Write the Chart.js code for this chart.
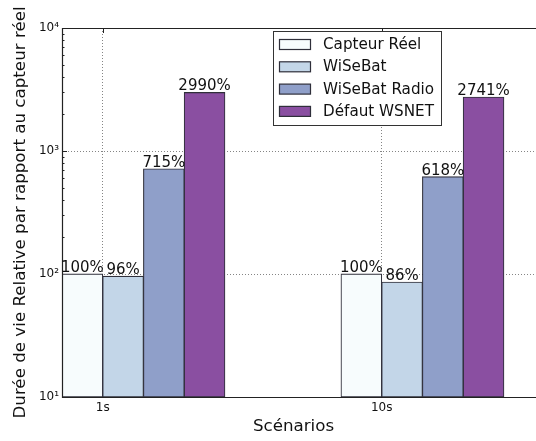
<!DOCTYPE html>
<html>
<head>
<meta charset="utf-8">
<script src="https://cdn.jsdelivr.net/npm/chart.js@4/dist/chart.umd.min.js"></script>
<style>
  html, body { margin: 0; padding: 0; background: #fff; overflow: hidden; }
  #wrap { width: 536px; height: 441px; }
</style>
</head>
<body>
<div id="wrap"><canvas id="chart"></canvas></div>
<script>
"use strict";

var scenarios = ["1s", "10s"];
var seriesNames = ["Capteur Réel", "WiSeBat", "WiSeBat Radio", "Défaut WSNET"];
var capteurReel = [100, 100];
var wisebat = [96, 86];
var wisebatRadio = [715, 618];
var defautWsnet = [2990, 2741];
var yTicks = [10, 100, 1000, 10000];
var yTickLabels = ["10¹", "10²", "10³", "10⁴"];
var yTitle = "Durée de vie Relative par rapport au capteur réel";
var xTitle = "Scénarios";

var colors = ["#f7fcfd", "#c3d6e8", "#8f9fc9", "#8a4fa1"];
var edge = "#2f2f3a";
var FONT = "'DejaVu Sans', sans-serif";

// bar width in x units; ticks sit on the left edge of the 2nd bar (matplotlib style)
var BAR_W = 0.146;
var X_MIN = -BAR_W;
var X_MAX = X_MIN + 1.699;

var allSeries = [capteurReel, wisebat, wisebatRadio, defautWsnet];

function toPoints(values) {
    return values.map(function (v, i) { return { x: i + BAR_W, y: v }; });
}

var datasets = allSeries.map(function (values, k) {
    return {
        label: seriesNames[k],
        data: toPoints(values),
        backgroundColor: colors[k],
        borderColor: edge,
        borderWidth: 1.1,
        borderSkipped: false,
        inflateAmount: 0.4,
        categoryPercentage: 4 * BAR_W,
        barPercentage: 1
    };
});

// frame, minor log ticks, axis titles, value labels and the boxed legend
var decorations = {
    id: "decorations",
    beforeDatasetsDraw: function (chart) {
        var ctx = chart.ctx, a = chart.chartArea, y = chart.scales.y, x = chart.scales.x;
        ctx.save();
        ctx.strokeStyle = "#222";
        ctx.lineWidth = 1;
        // inward minor ticks on log axis
        for (var d = 10; d < 10000; d *= 10) {
            for (var m = 2; m < 10; m++) {
                var py = Math.round(y.getPixelForValue(d * m)) + 0.5;
                ctx.beginPath();
                ctx.moveTo(a.left, py); ctx.lineTo(a.left + 2.5, py);
                ctx.stroke();
            }
        }
        yTicks.forEach(function (t) {
            var py = Math.round(y.getPixelForValue(t)) + 0.5;
            ctx.beginPath();
            ctx.moveTo(a.left, py); ctx.lineTo(a.left + 5, py);
            ctx.stroke();
        });
        scenarios.forEach(function (s, i) {
            var px = Math.round(x.getPixelForValue(i)) + 0.5;
            ctx.beginPath();
            ctx.moveTo(px, a.bottom); ctx.lineTo(px, a.bottom - 5);
            ctx.moveTo(px, a.top); ctx.lineTo(px, a.top + 5);
            ctx.stroke();
        });

        ctx.fillStyle = "#111";
        ctx.font = "16.7px " + FONT;
        ctx.textAlign = "center";
        ctx.textBaseline = "middle";
        // x title (the crop hides the right part of the axes, so it sits left of centre)
        ctx.fillText(xTitle, 293.5, 426.5);
        // rotated y title, full length, runs past the top like the reference
        ctx.translate(21, (a.top + a.bottom) / 2);
        ctx.rotate(-Math.PI / 2);
        ctx.fillText(yTitle, 0, 0);
        ctx.restore();
    },
    afterDatasetsDraw: function (chart) {
        var ctx = chart.ctx, a = chart.chartArea;
        ctx.save();
        // axes frame (right side falls off the crop)
        ctx.strokeStyle = "#222";
        ctx.lineWidth = 1.2;
        ctx.beginPath();
        ctx.moveTo(chart.width, a.top + 0.5);
        ctx.lineTo(a.left + 0.5, a.top + 0.5);
        ctx.lineTo(a.left + 0.5, a.bottom + 0.5);
        ctx.lineTo(chart.width, a.bottom + 0.5);
        ctx.stroke();

        // value labels
        ctx.fillStyle = "#111";
        ctx.font = "15px " + FONT;
        ctx.textAlign = "center";
        ctx.textBaseline = "alphabetic";
        chart.data.datasets.forEach(function (ds, k) {
            var meta = chart.getDatasetMeta(k);
            meta.data.forEach(function (bar, i) {
                ctx.fillText(allSeries[k][i] + "%", bar.x, bar.y - 2);
            });
        });

        // legend box
        var lx = 273.5, ly = 31.5, lw = 168, lh = 94;
        ctx.fillStyle = "#fff";
        ctx.fillRect(lx, ly, lw, lh);
        ctx.strokeStyle = "#333";
        ctx.lineWidth = 1;
        ctx.strokeRect(lx, ly, lw, lh);
        ctx.textAlign = "left";
        ctx.textBaseline = "middle";
        ctx.font = "15.2px " + FONT;
        chart.data.datasets.forEach(function (ds, k) {
            var cy = 44.5 + k * 22.3;
            ctx.fillStyle = ds.backgroundColor;
            ctx.fillRect(279.5, cy - 5, 31, 10);
            ctx.strokeStyle = edge;
            ctx.lineWidth = 1.2;
            ctx.strokeRect(279.5, cy - 5, 31, 10);
            ctx.fillStyle = "#111";
            ctx.fillText(ds.label, 323, cy + 0.5);
        });
        ctx.restore();
    }
};

var chart = new Chart(document.getElementById("chart"), {
    type: "bar",
    data: { datasets: datasets },
    options: {
        responsive: true,
        maintainAspectRatio: false,
        animation: false,
        devicePixelRatio: 1,
        layout: { padding: { top: 28, right: 0, left: 0, bottom: 0 } },
        plugins: {
            legend: { display: false },
            tooltip: { enabled: false }
        },
        scales: {
            x: {
                type: "linear",
                offset: false,
                min: X_MIN,
                max: X_MAX,
                afterBuildTicks: function (scale) {
                    scale.ticks = scenarios.map(function (s, i) { return { value: i }; });
                },
                afterFit: function (scale) { scale.height = 44; },
                ticks: {
                    autoSkip: false,
                    maxRotation: 0,
                    padding: 4,
                    color: "#111",
                    font: { family: FONT, size: 12 },
                    callback: function (v, i) { return scenarios[i]; }
                },
                grid: {
                    offset: false,
                    drawTicks: false,
                    color: "#666",
                    lineWidth: 0.8
                },
                border: { display: false, dash: [1, 2] }
            },
            y: {
                type: "logarithmic",
                min: 10,
                max: 10000,
                afterBuildTicks: function (scale) {
                    scale.ticks = yTicks.map(function (v) { return { value: v }; });
                },
                afterFit: function (scale) { scale.width = 62; },
                ticks: {
                    padding: 3,
                    color: "#111",
                    font: { family: FONT, size: 12 },
                    callback: function (v, i) { return yTickLabels[i]; }
                },
                grid: {
                    drawTicks: false,
                    color: function (c) {
                        var v = c.tick ? c.tick.value : 0;
                        return (v === 10 || v === 10000) ? "rgba(0,0,0,0)" : "#666";
                    },
                    lineWidth: 0.8
                },
                border: { display: false, dash: [1, 2] }
            }
        }
    },
    plugins: [decorations]
});
</script>
</body>
</html>
